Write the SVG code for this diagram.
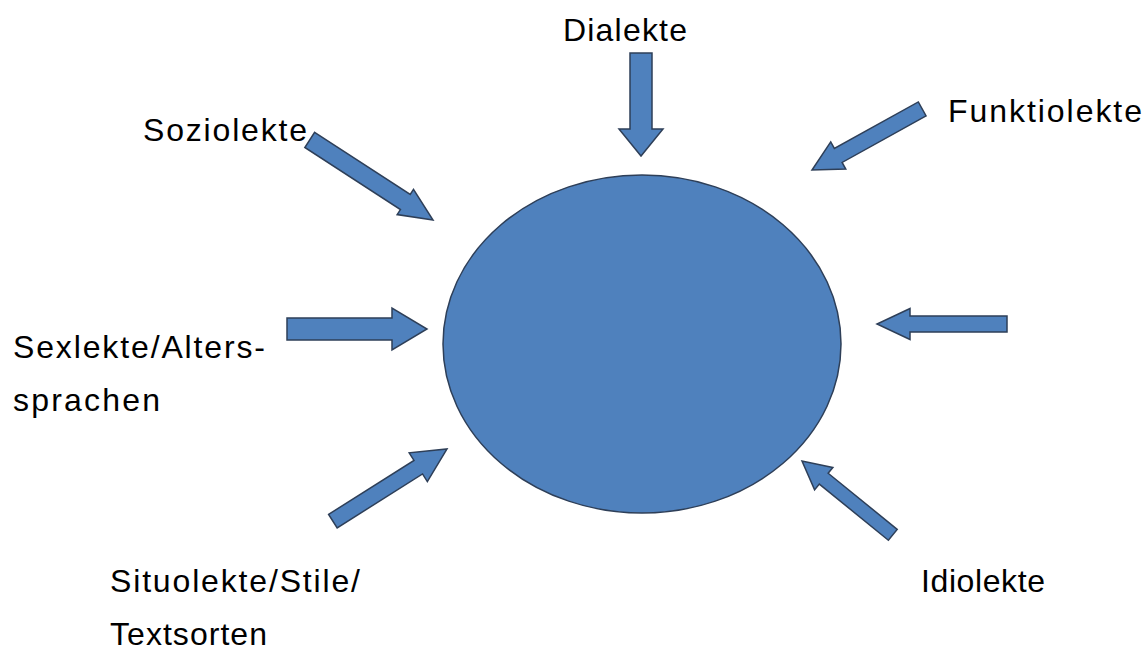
<svg xmlns="http://www.w3.org/2000/svg" width="1147" height="656" viewBox="0 0 1147 656">
<style>
.lbl{font-family:"Liberation Sans",Arial,sans-serif;font-size:32px;fill:#000}
.shape{fill:#4F81BD;stroke:#2E3F58;stroke-width:1.5;stroke-linejoin:miter}
</style>
<rect width="1147" height="656" fill="#fff"/>
<g id="center">
<ellipse class="shape" cx="642" cy="344" rx="199" ry="169"/>
</g>
<g id="connectors">
<polygon class="shape" transform="translate(641,156) rotate(90)" points="-103,-11 -27,-11 -27,-22 0,0 -27,22 -27,11 -103,11"/>
<polygon class="shape" transform="translate(433,220) rotate(33)" points="-147,-9 -33,-9 -33,-15 0,0 -33,15 -33,9 -147,9"/>
<polygon class="shape" transform="translate(812,170) rotate(151)" points="-126,-8 -30,-8 -30,-15.5 0,0 -30,15.5 -30,8 -126,8"/>
<polygon class="shape" transform="translate(427,329) rotate(0)" points="-140,-11 -35,-11 -35,-21 0,0 -35,21 -35,11 -140,11"/>
<polygon class="shape" transform="translate(877,324) rotate(180)" points="-130,-8 -33,-8 -33,-15.5 0,0 -33,15.5 -33,8 -130,8"/>
<polygon class="shape" transform="translate(447,449) rotate(-32.3)" points="-135,-8 -34,-8 -34,-17 0,0 -34,17 -34,8 -135,8"/>
<polygon class="shape" transform="translate(802,461) rotate(-140.9)" points="-117,-7 -28,-7 -28,-14.5 0,0 -28,14.5 -28,7 -117,7"/>
</g>
<g id="dialekte"><text class="lbl" x="563" y="41" textLength="124" lengthAdjust="spacing">Dialekte</text></g>
<g id="soziolekte"><text class="lbl" x="143" y="141" textLength="164" lengthAdjust="spacing">Soziolekte</text></g>
<g id="funktiolekte"><text class="lbl" x="948" y="122" textLength="194" lengthAdjust="spacing">Funktiolekte</text></g>
<g id="sexlekte">
<text class="lbl" x="13" y="358" textLength="252" lengthAdjust="spacing">Sexlekte/Alters-</text>
<text class="lbl" x="13" y="411" textLength="147" lengthAdjust="spacing">sprachen</text>
</g>
<g id="situolekte">
<text class="lbl" x="110" y="592" textLength="250" lengthAdjust="spacing">Situolekte/Stile/</text>
<text class="lbl" x="110" y="645" textLength="157" lengthAdjust="spacing">Textsorten</text>
</g>
<g id="idiolekte"><text class="lbl" x="921" y="592" textLength="124" lengthAdjust="spacing">Idiolekte</text></g>
</svg>
